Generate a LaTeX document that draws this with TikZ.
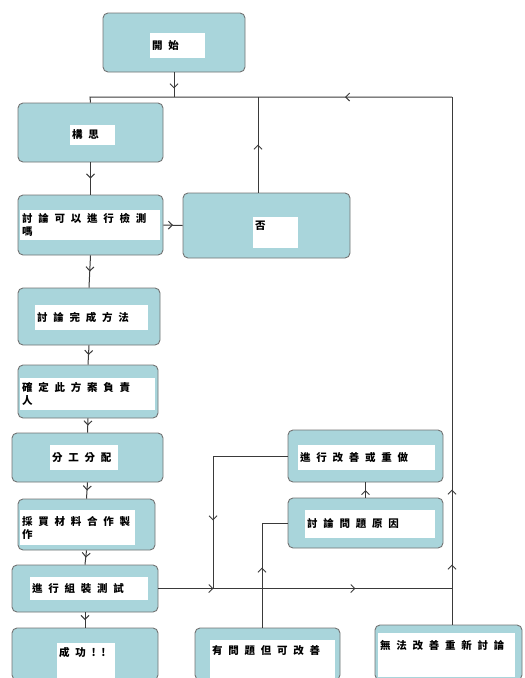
\documentclass[tikz,border=0pt]{standalone}
\usepackage{fontspec}
\newfontfamily\cjk[LetterSpace=55]{Noto Sans CJK TC}
\usetikzlibrary{arrows.meta, positioning, calc, decorations.markings}
\definecolor{boxteal}{HTML}{A9D5DB}
\definecolor{lineg}{HTML}{3A3A3A}

\begin{document}
\begin{tikzpicture}[x=1pt, y=-1pt,
    stepbox/.style={draw=black!55, fill=boxteal, rounded corners=5pt, line width=0.9pt},
    strip/.style={fill=white, inner sep=2pt, align=left,
                  font=\cjk\bfseries\fontsize{10.5}{13}\selectfont},
    flow/.style={draw=lineg, line width=1pt},
    midarrow/.style={postaction={decorate, decoration={markings,
        mark=at position #1 with {\arrow{Straight Barb[length=4pt, width=8pt]}}}}},
    midarrow/.default=0.5
  ]
  \useasboundingbox (0,0) rectangle (525,678);
  \clip (0,0) rectangle (525,678);

  % left column
  \node[stepbox, minimum width=142pt, minimum height=59pt] (kaishi) at (174,42.5) {};
  \node[strip, text width=51pt, minimum height=25pt] (kaishi-t) at (177.5,45.5) {開始};

  \node[stepbox, minimum width=145pt, minimum height=59pt] (gousi) at (90.5,132.5) {};
  \node[strip, text width=41pt, minimum height=20pt] (gousi-t) at (92.5,135) {構思};

  \node[stepbox, minimum width=145pt, minimum height=60pt] (taolun) at (90.5,225) {};
  \node[strip, text width=136pt, minimum height=30pt] (taolun-t) at (90,225)
    {討論可以進行檢測\\嗎};

  \node[stepbox, minimum width=142pt, minimum height=57pt] (fangfa) at (89,316.5) {};
  \node[strip, text width=109pt, minimum height=25pt] (fangfa-t) at (91.5,317.5) {討論完成方法};

  \node[stepbox, minimum width=140pt, minimum height=53pt] (queding) at (88,391.5) {};
  \node[strip, text width=131pt, minimum height=32pt] (queding-t) at (87.5,394)
    {確定此方案負責\\人};

  \node[stepbox, minimum width=151pt, minimum height=49pt] (fengong) at (87.5,457.5) {};
  \node[strip, text width=64pt, minimum height=25pt] (fengong-t) at (84,457.5) {分工分配};

  \node[stepbox, minimum width=137pt, minimum height=51pt] (caimai) at (86.5,524.5) {};
  \node[strip, text width=111pt, minimum height=35pt] (caimai-t) at (77.5,527.5)
    {採買材料合作製\\作};

  \node[stepbox, minimum width=146pt, minimum height=47pt] (zuzhuang) at (85,588.5) {};
  \node[strip, text width=114pt, minimum height=23pt] (zuzhuang-t) at (89,588.5) {進行組裝測試};

  \node[stepbox, minimum width=146pt, minimum height=52pt] (chenggong) at (85,654) {};
  \node[strip, text width=54pt, text height=11pt, text depth=22pt] (chenggong-t)
    at (86,661.5) {成功!!};

  % right side
  \node[stepbox, minimum width=167pt, minimum height=65pt] (fou) at (266.5,225.5) {};
  \node[strip, text width=41pt, text height=10pt, text depth=17pt] (fou-t)
    at (275.5,232.5) {否};

  \node[stepbox, minimum width=155pt, minimum height=52pt] (zuochong) at (365.5,456) {};
  \node[strip, text width=133pt, minimum height=25pt] (zuochong-t) at (366.5,457.5) {進行改善或重做};

  \node[stepbox, minimum width=155pt, minimum height=50pt] (yuanyin) at (365.5,523) {};
  \node[strip, text width=126pt, minimum height=28pt] (yuanyin-t) at (370,524) {討論問題原因};

  \node[stepbox, minimum width=145pt, minimum height=52pt] (gaishan) at (267.5,654) {};
  \node[strip, text width=121pt, text height=12pt, text depth=24pt] (gaishan-t)
    at (272.5,660) {有問題但可改善};

  \node[stepbox, minimum width=147pt, minimum height=55pt] (wufa) at (448.5,652.5) {};
  \node[strip, text width=133pt, text height=14pt, text depth=26pt] (wufa-t)
    at (446.5,655) {無法改善重新討論};

  % loop points
  \coordinate (loopL) at (90,97);
  \coordinate (loopR) at (452,97);
  \coordinate (joinL) at (213,588);
  \coordinate (fouTop) at ([xshift=-8.5pt]fou.north);
  \coordinate (gsTop) at ([xshift=-5.5pt]gaishan.north);

  % connectors
  \draw[flow, midarrow=16pt] (kaishi.south) -- (kaishi.south |- loopL);
  \draw[flow, midarrow=107pt] (loopR) -- (loopL) -- (gousi.north);
  \draw[flow, midarrow=48pt] (fouTop) -- (fouTop |- loopL);
  \draw[flow, midarrow=60pt, midarrow=135pt] (loopR |- wufa.north) -- (loopR);

  \draw[flow, midarrow] (gousi.south) -- (taolun.north);
  \draw[flow, midarrow] (taolun.east) -- (fou.west);
  \draw[flow, midarrow] (taolun.south) -- (fangfa.north);
  \draw[flow, midarrow] (fangfa.south) -- (queding.north);
  \draw[flow, midarrow] (queding.south) -- (fengong.north);
  \draw[flow, midarrow] (fengong.south) -- (caimai.north);
  \draw[flow, midarrow] (caimai.south) -- (zuzhuang.north);
  \draw[flow, midarrow] (zuzhuang.south) -- (chenggong.north);

  \draw[flow, midarrow=55pt, midarrow=197pt] (zuzhuang.east) -- (loopR |- zuzhuang.east);
  \draw[flow, midarrow=139pt] (zuochong.west) -| (joinL);
  \draw[flow, midarrow=60pt] (gsTop) |- (yuanyin.west);
  \draw[flow, midarrow] (yuanyin.north) -- (zuochong.south);
\end{tikzpicture}
\end{document}
